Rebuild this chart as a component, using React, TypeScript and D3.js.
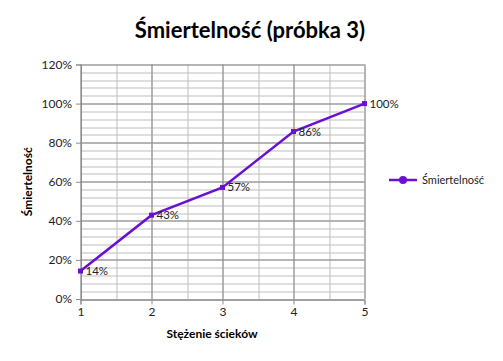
import React, { useEffect, useRef } from 'react';
import * as d3 from 'd3';

const concentrations = [1, 2, 3, 4, 5];
const mortality = [0.143, 0.429, 0.571, 0.857, 1.0];
const pointLabels = ['14%', '43%', '57%', '86%', '100%'];
const yTicks = [0, 0.2, 0.4, 0.6, 0.8, 1.0, 1.2];

const WIDTH = 503;
const HEIGHT = 361;
const LINE_COLOR = '#6a0fd4';
const FONT = 'Lato, "Open Sans", sans-serif';

export default function App() {
  const svgRef = useRef<SVGSVGElement>(null);

  useEffect(() => {
    const svg = d3.select(svgRef.current);
    svg.selectAll('*').remove();

    const margin = { top: 64.5, right: 138.5, bottom: 62, left: 80.5 };
    const innerWidth = WIDTH - margin.left - margin.right;
    const innerHeight = HEIGHT - margin.top - margin.bottom;

    svg.append('rect').attr('width', WIDTH).attr('height', HEIGHT).attr('fill', '#fff');

    const g = svg.append('g').attr('transform', `translate(${margin.left},${margin.top})`);

    const xScale = d3.scaleLinear().domain([1, 5]).range([0, innerWidth]);
    const yScale = d3.scaleLinear().domain([0, 1.2]).range([innerHeight, 0]);

    // minor grid (4% steps, half units on x)
    g.selectAll('.minor-y')
      .data(d3.range(0, 31).map(i => i * 0.04))
      .enter()
      .append('line')
      .attr('x1', 0)
      .attr('x2', innerWidth)
      .attr('y1', d => Math.round(yScale(d)) + 0.5)
      .attr('y2', d => Math.round(yScale(d)) + 0.5)
      .style('stroke', '#bdbdbd')
      .style('stroke-width', 1);

    g.selectAll('.minor-x')
      .data(d3.range(0, 9).map(i => 1 + i * 0.5))
      .enter()
      .append('line')
      .attr('x1', d => Math.round(xScale(d)) + 0.5)
      .attr('x2', d => Math.round(xScale(d)) + 0.5)
      .attr('y1', 0)
      .attr('y2', innerHeight)
      .style('stroke', '#bdbdbd')
      .style('stroke-width', 1);

    // major grid
    g.selectAll('.major-y')
      .data(yTicks)
      .enter()
      .append('line')
      .attr('x1', 0)
      .attr('x2', innerWidth)
      .attr('y1', d => Math.round(yScale(d)) + 0.5)
      .attr('y2', d => Math.round(yScale(d)) + 0.5)
      .style('stroke', '#8c8c8c')
      .style('stroke-width', 1);

    g.selectAll('.major-x')
      .data(concentrations)
      .enter()
      .append('line')
      .attr('x1', d => Math.round(xScale(d)) + 0.5)
      .attr('x2', d => Math.round(xScale(d)) + 0.5)
      .attr('y1', 0)
      .attr('y2', innerHeight)
      .style('stroke', '#8c8c8c')
      .style('stroke-width', 1);

    // Y axis
    const yAxis = g.append('g')
      .attr('transform', 'translate(0.5,0)')
      .call(d3.axisLeft(yScale).tickValues(yTicks).tickSize(5).tickFormat(d => `${Math.round((d as number) * 100)}%`));
    yAxis.select('.domain').style('stroke', '#8c8c8c');
    yAxis.selectAll('line').style('stroke', '#8c8c8c');
    yAxis.selectAll('text')
      .style('font-family', FONT)
      .style('font-size', '12px')
      .style('fill', '#222')
      .attr('x', -9);

    // X axis
    const xAxis = g.append('g')
      .attr('transform', `translate(0,${innerHeight + 0.5})`)
      .call(d3.axisBottom(xScale).tickValues(concentrations).tickSize(5).tickFormat(d3.format('d')));
    xAxis.select('.domain').style('stroke', '#8c8c8c');
    xAxis.selectAll('line').style('stroke', '#8c8c8c');
    xAxis.selectAll('text')
      .style('font-family', FONT)
      .style('font-size', '12px')
      .style('fill', '#222')
      .attr('y', 8);

    const points = concentrations.map((c, i) => ({ x: c, y: mortality[i], label: pointLabels[i] }));

    const line = d3.line<typeof points[0]>()
      .x(d => xScale(d.x))
      .y(d => yScale(d.y));

    g.append('path')
      .datum(points)
      .attr('d', line)
      .style('fill', 'none')
      .style('stroke', LINE_COLOR)
      .style('stroke-width', 2.5);

    g.selectAll('.marker')
      .data(points)
      .enter()
      .append('rect')
      .attr('x', d => xScale(d.x) - 2.5)
      .attr('y', d => yScale(d.y) - 2.5)
      .attr('width', 5)
      .attr('height', 5)
      .style('fill', LINE_COLOR);

    g.selectAll('.point-label')
      .data(points)
      .enter()
      .append('text')
      .attr('x', d => xScale(d.x) + 5)
      .attr('y', d => yScale(d.y) + 4)
      .style('font-family', FONT)
      .style('font-size', '11.5px')
      .style('fill', '#222')
      .text(d => d.label);

    // Titles
    svg.append('text')
      .attr('x', 250)
      .attr('y', 38)
      .attr('text-anchor', 'middle')
      .style('font-family', FONT)
      .style('font-size', '22px')
      .style('font-weight', 'bold')
      .style('fill', '#000')
      .text('Śmiertelność (próbka 3)');

    svg.append('text')
      .attr('transform', `translate(32,${margin.top + innerHeight / 2}) rotate(-90)`)
      .attr('text-anchor', 'middle')
      .style('font-family', FONT)
      .style('font-size', '12px')
      .style('font-weight', 'bold')
      .style('fill', '#000')
      .text('Śmiertelność');

    svg.append('text')
      .attr('x', 212)
      .attr('y', 338)
      .attr('text-anchor', 'middle')
      .style('font-family', FONT)
      .style('font-size', '12px')
      .style('font-weight', 'bold')
      .style('fill', '#000')
      .text('Stężenie ścieków');

    // Legend
    const legend = svg.append('g').attr('transform', 'translate(389,180)');
    legend.append('line')
      .attr('x1', 0)
      .attr('x2', 28)
      .style('stroke', LINE_COLOR)
      .style('stroke-width', 2.5);
    legend.append('circle')
      .attr('cx', 14)
      .attr('r', 4)
      .style('fill', LINE_COLOR);
    legend.append('text')
      .attr('x', 33)
      .attr('dy', '0.35em')
      .style('font-family', FONT)
      .style('font-size', '11px')
      .style('fill', '#222')
      .text('Śmiertelność');
  }, []);

  return (
    <div style={{ margin: -8 }}>
      <svg ref={svgRef} width={WIDTH} height={HEIGHT} style={{ display: 'block' }} />
    </div>
  );
}
